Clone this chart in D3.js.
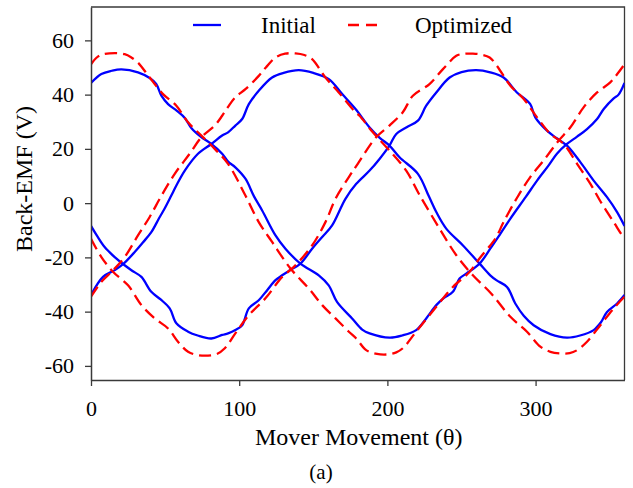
<!DOCTYPE html>
<html>
<head>
<meta charset="utf-8">
<script src="https://cdn.jsdelivr.net/npm/d3@7"></script>
<style>
  html, body { margin: 0; padding: 0; background: #fff; }
  svg { display: block; }
  svg text { font-family: "Liberation Serif", serif; }
</style>
</head>
<body>
<svg id="chart" width="633" height="488"></svg>
<script>
// Back-EMF of the three phases versus mover position, [theta, volts]
const initialA = [[0,44.3],[7,47.6],[14,48.8],[20.5,49.3],[31.7,48.2],[39.6,46.1],[44,43.9],[47.5,39.6],[52,36.5],[58,34],[63.3,31.4],[67.7,27.7],[74,24.5],[81.2,21.8],[88.5,18.2],[92.5,15.3],[97.4,13.2],[104.2,9.0],[110,2.5],[115.5,-2.7],[124.5,-11.9],[131.2,-16.8],[141.3,-22.3],[153.7,-26.6],[160.4,-30.3],[166,-36.4],[176.2,-42.5],[183,-46.6],[188,-48],[201.5,-49.6],[210,-48.8],[219.4,-46.8],[226.2,-42.5],[233,-37.6],[238,-35],[244.2,-32.7],[248.7,-27.8],[253.2,-26],[262.2,-22.3],[269.4,-16.8],[276.2,-11.3],[283,-5.7],[293.5,2.4],[301,8.3],[308.8,13.9],[314.4,18.2],[321.2,21.8],[328,24.5],[334.7,27.3],[341.5,31],[346,34.7],[352.7,38.6],[356,40],[360,44.3]];
const initialB = [[0,-33.9],[8.1,-27.2],[16,-24.7],[21.6,-22.5],[29.5,-18],[35,-14.5],[40.7,-10.7],[46,-5.5],[49.7,-2],[54.2,2.8],[57.6,6.5],[63.3,12],[72.2,18.2],[81.2,21.8],[88.5,24.9],[92.5,26.1],[97.4,28.6],[102,31],[106.5,36.5],[113.2,41.4],[122.2,46.3],[130,48],[140.2,49],[150,48],[160.5,45.7],[169.5,40.2],[178.5,34.7],[188,27.9],[195,24],[201.4,21.2],[208.2,16.9],[220.6,10.8],[228,2.5],[233,-3.3],[239.7,-9.4],[251,-15.6],[262.2,-22.3],[269.4,-26.6],[273.5,-28.4],[280.7,-30.9],[286.3,-37],[292,-41.5],[298.7,-45],[310,-48.3],[321.2,-49.6],[330,-48.8],[339.2,-46.8],[344,-44],[348.2,-40.1],[355,-37],[360,-33.9]];
const initialC = [[0,-8.4],[4,-12],[9.2,-16.2],[16,-19.9],[22.7,-22.9],[28,-25],[34,-27.2],[40.7,-32.7],[47,-35.5],[53.1,-38.8],[57.6,-44.3],[65.5,-47.4],[72,-48.8],[81.2,-49.9],[88.5,-48.6],[92.5,-48],[97.4,-46.8],[102,-45],[106.5,-38.8],[113.2,-35.8],[119,-32],[124.5,-28.4],[129,-26.6],[135,-24.5],[141.3,-22.3],[149.2,-16.8],[156,-12.5],[162.7,-8.2],[171.7,1.6],[179,7.1],[188,12],[194.7,16.3],[201.4,21.2],[206,25.5],[213,28],[220.6,30.4],[226.2,35.9],[233,40.8],[242,46.3],[250,48.3],[260,49],[269.4,48.2],[278.4,46.3],[287.4,40.8],[296.4,36.5],[299.8,31.6],[307.7,26.7],[314,24],[321.2,21.2],[330.2,15.1],[339.2,8.3],[348.2,2.2],[355,-3.3],[360,-8.4]];

const optimizedA = [[0,51.2],[3.5,53.5],[7,54.7],[16,55.3],[22.7,54.9],[27,53.8],[31.7,51.8],[39.6,46.3],[48.6,40.2],[57.6,35.9],[65.5,29.8],[74.5,24.9],[83.5,20],[92.5,14.5],[104.2,2.8],[113.2,-7],[122.2,-14.3],[134.6,-24.1],[147,-31.5],[156,-37.6],[165,-42.5],[174,-47.4],[179,-49.9],[185.7,-54.2],[193,-55.6],[201.4,-55.7],[206,-55],[210.4,-53.5],[219.4,-47.4],[233,-38.2],[244.2,-30.9],[255.4,-25.4],[262,-20.5],[269.4,-15.6],[273.5,-12.5],[278.4,-7],[287.4,1.9],[296.4,9.6],[305.4,15.7],[315.5,23],[323.4,27.9],[332.4,35.3],[341.5,40.8],[350.4,44.5],[355,47.5],[360,51.2]];
const optimizedB = [[0,-34.5],[7,-29],[15,-24.7],[22.7,-19.9],[31.7,-11.9],[39.6,-5.1],[47,2.2],[56.5,10.8],[66.6,18.2],[74.5,24.3],[83.5,28.6],[88.5,32.2],[92.5,35.5],[97.4,39],[104.2,42],[113.2,46.9],[118,50],[124.5,53.7],[131,55.1],[138,55.2],[144,54.6],[149.2,53.1],[158.2,46.3],[167.2,40.8],[178.5,33.5],[181.2,32.2],[190.2,26.1],[201.4,19.4],[212.7,12],[221.5,3.2],[235.2,-9.4],[246.5,-19.2],[257.7,-26.6],[270,-33.3],[283,-41.9],[294.2,-47.4],[303.2,-52.9],[310,-54.8],[316.7,-55.4],[323,-55.3],[328,-54.2],[334.7,-51.1],[343.7,-45],[352.7,-38.8],[360,-34.5]];
const optimizedC = [[0,-13.1],[7,-19.9],[15,-25.4],[25,-30.3],[34,-37.6],[43,-42.5],[52,-46.2],[58.7,-51.1],[65.5,-54.8],[72,-56],[79,-56.2],[85,-55.6],[90.3,-53.5],[97.4,-48],[106.5,-41.3],[117.7,-35.1],[129,-27.2],[136.9,-23.5],[149.2,-15.6],[158.2,-7],[165,1.6],[174,9.6],[180,14.5],[192.4,24.3],[201.4,28.6],[210.4,33.5],[217.2,39.6],[228.4,43.9],[237.5,49.4],[246.5,54.3],[251,55],[257.7,55.1],[263,54.8],[269,53.7],[273.9,50.6],[283,43.3],[292,38.4],[301,31.6],[310,25.5],[319,21.8],[328,14.5],[337,7.1],[343.7,0.7],[352.7,-7],[358.4,-11.9],[360,-13.1]];

const xTicks = [0, 100, 200, 300];
const yTicks = [-60, -40, -20, 0, 20, 40, 60];
const seriesNames = ["Initial", "Optimized"];

const svg = d3.select("#chart");
const plotLeft = 91, plotRight = 624.5, plotTop = 7, plotBottom = 380;

const x = d3.scaleLinear().domain([0, 360]).range([plotLeft, plotRight]);
const y = d3.scaleLinear().domain([-65.2, 72.3]).range([plotBottom, plotTop]);

const axisColor = "#3a3a3a";
const serif = "'Liberation Serif', serif";
const tickFont = 22, titleFont = 24, legendFont = 23;

svg.append("defs").append("clipPath").attr("id", "plotClip")
  .append("rect").attr("x", plotLeft).attr("y", plotTop)
  .attr("width", plotRight - plotLeft).attr("height", plotBottom - plotTop);

// frame (top and right edges)
svg.append("path")
  .attr("d", `M${plotLeft},${plotTop}H${plotRight}V${plotBottom}`)
  .attr("fill", "none").attr("stroke", axisColor).attr("stroke-width", 1.3);

const line = d3.line()
  .x(d => x(d[0])).y(d => y(d[1]))
  .curve(d3.curveCatmullRom.alpha(0.5));

const plot = svg.append("g").attr("clip-path", "url(#plotClip)");

[initialA, initialB, initialC].forEach(s => {
  plot.append("path").datum(s).attr("d", line)
    .attr("fill", "none").attr("stroke", "#0000ff").attr("stroke-width", 2.3);
});
[optimizedA, optimizedB, optimizedC].forEach(s => {
  plot.append("path").datum(s).attr("d", line)
    .attr("fill", "none").attr("stroke", "#ff0000").attr("stroke-width", 2.3)
    .attr("stroke-dasharray", "12,6");
});

// axes; plain hyphen for negative labels
const fmt = d => String(d);
const xAxis = svg.append("g").attr("transform", `translate(0,${plotBottom})`)
  .call(d3.axisBottom(x).tickValues(xTicks).tickFormat(fmt).tickSize(6).tickSizeOuter(0).tickPadding(14));
const yAxis = svg.append("g").attr("transform", `translate(${plotLeft},0)`)
  .call(d3.axisLeft(y).tickValues(yTicks).tickFormat(fmt).tickSize(6).tickSizeOuter(0).tickPadding(11));

[xAxis, yAxis].forEach(g => {
  g.attr("font-family", serif).attr("font-size", tickFont);
  g.select(".domain").attr("stroke", axisColor).attr("stroke-width", 1.5);
  g.selectAll(".tick line").attr("stroke", axisColor).attr("stroke-width", 1.3);
  g.selectAll(".tick text").attr("fill", "#000");
});

// axis titles
svg.append("text").attr("x", (plotLeft + plotRight) / 2 + 1).attr("y", 445)
  .attr("text-anchor", "middle").attr("font-family", serif).attr("font-size", titleFont)
  .attr("fill", "#000").text("Mover Movement (θ)");
svg.append("text").attr("transform", `translate(32,179) rotate(-90)`)
  .attr("text-anchor", "middle").attr("font-family", serif).attr("font-size", titleFont)
  .attr("fill", "#000").text("Back-EMF (V)");
svg.append("text").attr("x", 321).attr("y", 479)
  .attr("text-anchor", "middle").attr("font-family", serif).attr("font-size", 21)
  .attr("fill", "#000").text("(a)");

// legend
const legend = svg.append("g").attr("font-family", serif).attr("font-size", legendFont);
legend.append("line").attr("x1", 193).attr("x2", 221).attr("y1", 25).attr("y2", 25)
  .attr("stroke", "#0000ff").attr("stroke-width", 2.3);
legend.append("text").attr("x", 261).attr("y", 33).attr("fill", "#000").text(seriesNames[0]);
legend.append("line").attr("x1", 348).attr("x2", 377).attr("y1", 25).attr("y2", 25)
  .attr("stroke", "#ff0000").attr("stroke-width", 2.3).attr("stroke-dasharray", "11,7");
legend.append("text").attr("x", 415).attr("y", 33).attr("fill", "#000").text(seriesNames[1]);
</script>
</body>
</html>
